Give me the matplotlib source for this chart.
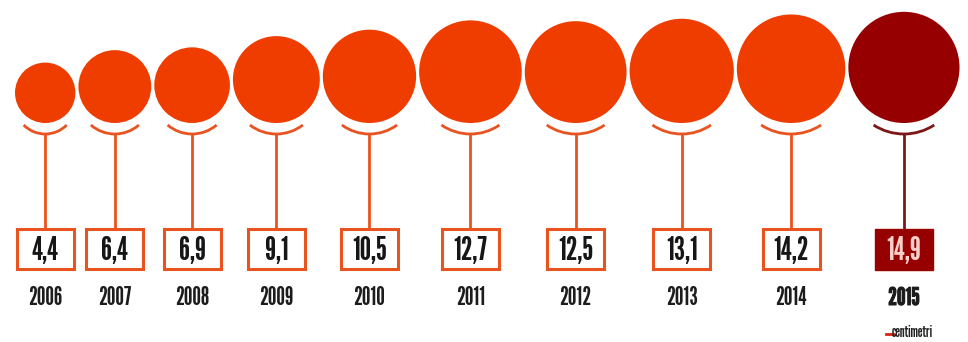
import numpy as np
import matplotlib
matplotlib.use("Agg")
import matplotlib.pyplot as plt
import matplotlib.patheffects as pe
from matplotlib.patches import Circle, Arc, Rectangle

years = ["2006", "2007", "2008", "2009", "2010", "2011", "2012", "2013", "2014", "2015"]
values = [4.4, 6.4, 6.9, 9.1, 10.5, 12.7, 12.5, 13.1, 14.2, 14.9]
labels = ["4,4", "6,4", "6,9", "9,1", "10,5", "12,7", "12,5", "13,1", "14,2", "14,9"]

ORANGE = "#ef3d00"
BOX_EDGE = "#e9531f"
DARK = "#970000"
DARK_LINE = "#7d1616"

W, H = 968, 342
fig = plt.figure(figsize=(W / 100, H / 100), dpi=100)
ax = fig.add_axes([0, 0, 1, 1])
ax.set_xlim(0, W)
ax.set_ylim(H, 0)
ax.axis("off")

fonts = ["League Gothic", "Oswald", "Barlow Condensed", "DejaVu Sans"]

k = 14.4          # px per sqrt(unit) -> area proportional to value
gap = 3.0
x_start = 15.0
base_y = 123.0    # common bottom of circles
radii = k * np.sqrt(np.array(values))
centers = []
x = x_start
for r in radii:
    centers.append(x + r)
    x += 2 * r + gap

box_w, box_h = 57, 40
box_top = 229
for i, (cx, r, v, lab, yr) in enumerate(zip(centers, radii, values, labels, years)):
    last = i == len(values) - 1
    fc = DARK if last else ORANGE
    lc = DARK_LINE if last else BOX_EDGE
    cy = base_y - r
    ax.add_patch(Circle((cx, cy), r, facecolor=fc, edgecolor="none"))
    depth = 9.0
    half = np.sqrt(max(2 * r * depth - depth ** 2, 1))
    theta = np.degrees(np.arcsin(half / r))
    ax.add_patch(Arc((cx, cy + 11), 2 * r, 2 * r, theta1=90 - theta, theta2=90 + theta,
                     color=lc, lw=2.0))
    arc_bottom = cy + 11 + r
    ax.plot([cx, cx], [arc_bottom, box_top], color=lc, lw=2.0, solid_capstyle="butt")
    if last:
        ax.add_patch(Rectangle((cx - box_w / 2, box_top), box_w + 1, box_h + 1,
                               facecolor=DARK, edgecolor=DARK, lw=1))
        tcol = "#f6cfc8"
    else:
        ax.add_patch(Rectangle((cx - box_w / 2, box_top), box_w, box_h,
                               facecolor="white", edgecolor=BOX_EDGE, lw=2.2))
        tcol = "#161616"
    ax.text(cx, 260, lab, ha="center", va="baseline",
            fontsize=23, color=tcol, family=fonts)
    t = ax.text(cx, 305, yr, ha="center", va="baseline", fontsize=17.5,
                color="#1c1c1c", family=fonts)
    if last:
        t.set_path_effects([pe.withStroke(linewidth=0.7, foreground="#1c1c1c")])

# watermark
ax.plot([886, 893], [334, 334], color="#e02010", lw=2)
ax.text(892, 337, "centimetri", ha="left", va="baseline", fontsize=11,
        color="#222222", family=fonts)

fig.savefig("out.png", dpi=100, facecolor="white")
